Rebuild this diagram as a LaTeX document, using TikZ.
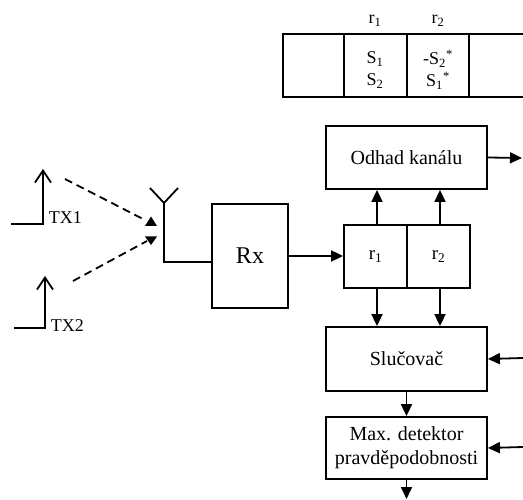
\documentclass[tikz,border=0pt]{standalone}
\usepackage{fontspec}
\setmainfont{Liberation Serif}
\usetikzlibrary{arrows.meta}

\begin{document}
\begin{tikzpicture}[x=1pt,y=-1pt,line width=1.8pt,
  blk/.style={draw,inner sep=0pt,align=center,font=\fontsize{20}{24}\selectfont},
  lbl/.style={inner sep=0pt,align=center},
  arr/.style={-{Triangle[length=12pt,width=11pt]}},
  txarr/.style={-{Straight Barb[length=12pt,width=16pt,line width=1.8pt]}},
  radio/.style={dash pattern=on 8pt off 5pt}]
\useasboundingbox (0,0) rectangle (523,500);

% frame of received symbols
\draw (523,34) -- (283,34) -- (283,97) -- (523,97);
\draw (344,34) -- (344,97);
\draw (407,34) -- (407,97);
\draw (469,34) -- (469,97);
\node[lbl,font=\fontsize{18}{22}\selectfont,anchor=base] (h1) at (375,24) {r\textsubscript{1}};
\node[lbl,font=\fontsize{18}{22}\selectfont,anchor=base] (h2) at (438,24) {r\textsubscript{2}};
\node[lbl,font=\fontsize{18}{22}\selectfont] (s12) at (375,70) {S\textsubscript{1}\\S\textsubscript{2}};
\node[lbl,font=\fontsize{18}{22}\selectfont] (s21) at (438,70) {-S\textsubscript{2}\textsuperscript{*}\\S\textsubscript{1}\textsuperscript{*}};

% receiver blocks
\node[blk,minimum width=161pt,minimum height=63pt] (odhad) at (406.5,157.5) {Odhad kanálu};
\node[blk,minimum width=76pt,minimum height=104pt,font=\fontsize{24}{28}\selectfont] (rx) at (250,256) {Rx};
\node[blk,minimum width=63pt,minimum height=63pt,font=\fontsize{19}{22}\selectfont] (r1) at (375.5,256.5) {r\textsubscript{1}};
\node[blk,minimum width=63pt,minimum height=63pt,font=\fontsize{19}{22}\selectfont] (r2) at (438.5,256.5) {r\textsubscript{2}};
\node[blk,minimum width=161pt,minimum height=64pt] (sluc) at (406.5,359) {Slučovač};
\node[blk,minimum width=161pt,minimum height=62pt] (maxd) at (406.5,448) {Max. detektor\\pravděpodobnosti};

% free ends of the connectors
\coordinate (odout) at (522,158);
\coordinate (slin) at (523,358);
\coordinate (mxin) at (523,447);
\coordinate (out) at (406.5,499);

% transmitters
\coordinate (t1a) at (11,224);
\coordinate (t1b) at (43,224);
\coordinate (t1c) at (43,169);
\coordinate (t2a) at (14,328);
\coordinate (t2b) at (45,328);
\coordinate (t2c) at (45,276);
\draw[txarr] (t1a) -- (t1b) -- (t1c);
\draw[txarr] (t2a) -- (t2b) -- (t2c);
\node[lbl,font=\fontsize{18}{22}\selectfont,anchor=base west] (tx1) at (48,224) {TX1};
\node[lbl,font=\fontsize{18}{22}\selectfont,anchor=base west] (tx2) at (50,332) {TX2};

% antenna
\coordinate (anttop) at (164,203);
\coordinate (antl) at (150,188);
\coordinate (antr) at (178,188);
\coordinate (antbot) at (164,262);
\draw (antl) -- (anttop) -- (antr);
\draw (anttop) -- (antbot) -- (antbot -| rx.west);

% radio paths
\coordinate (d1s) at (65,179);
\coordinate (d1e) at (145,220);
\coordinate (d2s) at (73,281);
\coordinate (d2e) at (147,241);
\draw[radio] (d1s) -- (d1e);
\draw[radio] (d2s) -- (d2e);
\fill (145,226) -- (157,226) -- (151,216.5) -- cycle;
\fill (145,236.5) -- (157,236.5) -- (151,245) -- cycle;

% signal flow
\draw[arr] (rx.east) -- (rx.east -| r1.west);
\draw[arr] ([xshift=1.5pt]r1.north) -- ([xshift=1.5pt]r1.north |- odhad.south);
\draw[arr] ([xshift=1.5pt]r2.north) -- ([xshift=1.5pt]r2.north |- odhad.south);
\draw[arr] ([xshift=1.5pt]r1.south) -- ([xshift=1.5pt]r1.south |- sluc.north);
\draw[arr] ([xshift=1.5pt]r2.south) -- ([xshift=1.5pt]r2.south |- sluc.north);
\draw[arr] (sluc.south) -- (maxd.north);
\draw[arr] (maxd.south) -- (out);
\draw[arr] (odhad.east) -- (odout);
\draw[arr] (slin) -- (sluc.east);
\draw[arr] (mxin) -- (maxd.east);
\end{tikzpicture}
\end{document}
